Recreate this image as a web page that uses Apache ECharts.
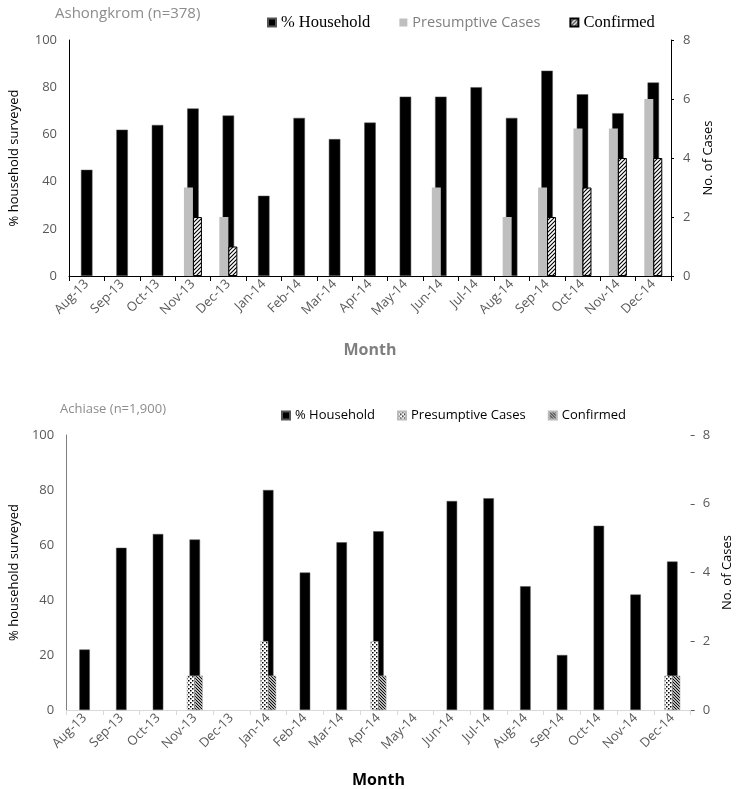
<!DOCTYPE html>
<html>
<head>
<meta charset="utf-8">
<script src="https://cdn.jsdelivr.net/npm/echarts@6/dist/echarts.min.js"></script>
<style>
html,body{margin:0;padding:0;background:#fff;}
#chart{width:742px;height:789px;}
</style>
</head>
<body>
<div id="chart"></div>
<script>
// ---- data ----
const months = ['Aug-13','Sep-13','Oct-13','Nov-13','Dec-13','Jan-14','Feb-14','Mar-14','Apr-14','May-14','Jun-14','Jul-14','Aug-14','Sep-14','Oct-14','Nov-14','Dec-14'];
const ashHousehold   = [45,62,64,71,68,34,67,58,65,76,76,80,67,87,77,69,82];
const ashPresumptive = [0,0,0,3,2,0,0,0,0,0,3,0,2,3,5,5,6];
const ashConfirmed   = [0,0,0,2,1,0,0,0,0,0,0,0,0,2,3,4,4];
const achHousehold   = [22,59,64,62,0,80,50,61,65,0,76,77,45,20,67,42,54];
const achPresumptive = [0,0,0,1,0,2,0,0,2,0,0,0,0,0,0,0,1];
const achConfirmed   = [0,0,0,1,0,1,0,0,1,0,0,0,0,0,0,0,1];
const pctTicks = [0,20,40,60,80,100];
const caseTicks = [0,2,4,6,8];
const titles = ['Ashongkrom (n=378)', 'Achiase (n=1,900)'];
const seriesLabels = ['% Household', 'Presumptive Cases', 'Confirmed'];

// ---- patterns ----
function hatch(dir, size, lw) {
  const c = document.createElement('canvas');
  c.width = c.height = size;
  const g = c.getContext('2d');
  g.fillStyle = '#fff'; g.fillRect(0, 0, size, size);
  g.strokeStyle = '#000'; g.lineWidth = lw; g.beginPath();
  if (dir > 0) {
    g.moveTo(0, size); g.lineTo(size, 0);
    g.moveTo(-1, 1); g.lineTo(1, -1);
    g.moveTo(size - 1, size + 1); g.lineTo(size + 1, size - 1);
  } else {
    g.moveTo(0, 0); g.lineTo(size, size);
    g.moveTo(size - 1, -1); g.lineTo(size + 1, 1);
    g.moveTo(-1, size - 1); g.lineTo(1, size + 1);
  }
  g.stroke();
  return c;
}
function dots() {
  const c = document.createElement('canvas');
  c.width = c.height = 4;
  const g = c.getContext('2d');
  g.fillStyle = '#fff'; g.fillRect(0, 0, 4, 4);
  g.fillStyle = '#000';
  g.fillRect(0, 0, 1.5, 1.5);
  g.fillRect(2, 2, 1.5, 1.5);
  return c;
}
const patTopConf = { image: hatch(1, 4, 1.1), repeat: 'repeat' };
const patBotPres = { image: dots(), repeat: 'repeat' };
const patBotConf = { image: hatch(-1, 3, 1.1), repeat: 'repeat' };

const nz = arr => arr.map(v => (v === 0 ? '-' : v));
const FONT = 'Open Sans';

const chart = echarts.init(document.getElementById('chart'), null, { renderer: 'canvas' });

const option = {
  animation: false,
  backgroundColor: '#fff',
  title: [
    { text: titles[0], left: 50, top: 1, textStyle: { fontFamily: FONT, fontSize: 15, fontWeight: 'normal', color: '#8c8c8c' } },
    { text: titles[1], left: 55, top: 398, textStyle: { fontFamily: FONT, fontSize: 13, fontWeight: 'normal', color: '#8c8c8c' } }
  ],
  legend: [
    {
      left: 262, top: 9, itemWidth: 8, itemHeight: 8, itemGap: 29,
      icon: 'rect',
      data: [
        { name: 'a_house', textStyle: { fontFamily: 'Liberation Serif', fontSize: 16.5, color: '#000' } },
        { name: 'a_pres', textStyle: { fontFamily: FONT, fontSize: 14.5, color: '#7f7f7f' } },
        { name: 'a_conf', textStyle: { fontFamily: 'Liberation Serif', fontSize: 16.5, color: '#000' } }
      ],
      formatter: n => ({ a_house: seriesLabels[0], a_pres: seriesLabels[1], a_conf: seriesLabels[2] })[n],
      selectedMode: false
    },
    {
      left: 276, top: 404, itemWidth: 8, itemHeight: 8, itemGap: 22,
      icon: 'rect',
      textStyle: { fontFamily: FONT, fontSize: 13, color: '#000' },
      data: ['b_house', 'b_pres', 'b_conf'],
      formatter: n => ({ b_house: seriesLabels[0], b_pres: seriesLabels[1], b_conf: seriesLabels[2] })[n],
      selectedMode: false
    }
  ],
  grid: [
    { left: 65, top: 40, width: 606, height: 236, containLabel: false },
    { left: 59, top: 435, width: 640, height: 277, containLabel: false }
  ],
  xAxis: [
    {
      gridIndex: 0, type: 'category', data: months,
      axisLine: { lineStyle: { color: '#000', width: 1 } },
      axisTick: { show: true, length: 5, lineStyle: { color: '#000' } },
      axisLabel: { rotate: 45, color: '#595959', fontFamily: FONT, fontSize: 13, margin: 6 },
      name: 'Month', nameLocation: 'middle', nameGap: 66,
      nameTextStyle: { fontFamily: FONT, fontSize: 16, fontWeight: 'bold', color: '#7f7f7f' }
    },
    { gridIndex: 0, type: 'category', data: months, show: false },
    {
      gridIndex: 1, type: 'category', data: months,
      axisLine: { lineStyle: { color: '#d9d9d9', width: 1 } },
      axisTick: { show: true, length: 5, lineStyle: { color: '#d9d9d9' } },
      axisLabel: { rotate: 45, color: '#595959', fontFamily: FONT, fontSize: 13, margin: 6 },
      name: 'Month', nameLocation: 'middle', nameGap: 62,
      nameTextStyle: { fontFamily: FONT, fontSize: 16, fontWeight: 'bold', color: '#000' }
    },
    { gridIndex: 1, type: 'category', data: months, show: false }
  ],
  yAxis: [
    {
      gridIndex: 0, type: 'value', min: 0, max: 100, interval: 20, position: 'left',
      axisLine: { show: true, lineStyle: { color: '#000' } },
      axisTick: { show: false }, splitLine: { show: false },
      axisLabel: { color: '#595959', fontFamily: FONT, fontSize: 13, margin: 12,
        formatter: v => (pctTicks.includes(v) ? String(v) : '') },
      name: '% household surveyed', nameLocation: 'middle', nameRotate: 90, nameGap: 48,
      nameTextStyle: { fontFamily: FONT, fontSize: 13, color: '#000' }
    },
    {
      gridIndex: 0, type: 'value', min: 0, max: 8, interval: 2, position: 'right',
      axisLine: { show: true, lineStyle: { color: '#000' } },
      axisTick: { show: true, length: 3, lineStyle: { color: '#000' } }, splitLine: { show: false },
      axisLabel: { color: '#595959', fontFamily: FONT, fontSize: 13, margin: 12,
        formatter: v => (caseTicks.includes(v) ? String(v) : '') },
      name: 'No. of Cases', nameLocation: 'middle', nameRotate: 90, nameGap: 31,
      nameTextStyle: { fontFamily: FONT, fontSize: 13, color: '#000' }
    },
    {
      gridIndex: 1, type: 'value', min: 0, max: 100, interval: 20, position: 'left',
      axisLine: { show: true, lineStyle: { color: '#7f7f7f' } },
      axisTick: { show: false }, splitLine: { show: false },
      axisLabel: { color: '#595959', fontFamily: FONT, fontSize: 13, margin: 12,
        formatter: v => (pctTicks.includes(v) ? String(v) : '') },
      name: '% household surveyed', nameLocation: 'middle', nameRotate: 90, nameGap: 42,
      nameTextStyle: { fontFamily: FONT, fontSize: 13, color: '#000' }
    },
    {
      gridIndex: 1, type: 'value', min: 0, max: 8, interval: 2, position: 'right',
      axisLine: { show: false },
      axisTick: { show: true, length: 4, lineStyle: { color: '#595959' } }, splitLine: { show: false },
      axisLabel: { color: '#595959', fontFamily: FONT, fontSize: 13, margin: 12,
        formatter: v => (caseTicks.includes(v) ? String(v) : '') },
      name: 'No. of Cases', nameLocation: 'middle', nameRotate: 90, nameGap: 28,
      nameTextStyle: { fontFamily: FONT, fontSize: 13, color: '#000' }
    }
  ],
  series: [
    { name: 'a_house', type: 'bar', xAxisIndex: 0, yAxisIndex: 0, data: nz(ashHousehold), barWidth: 11.5,
      itemStyle: { color: '#000', borderColor: '#555', borderWidth: 0.5 } },
    { name: 'a_pres', type: 'bar', xAxisIndex: 1, yAxisIndex: 1, data: nz(ashPresumptive), barWidth: 9, barGap: '0%',
      itemStyle: { color: '#bfbfbf' } },
    { name: 'a_conf', type: 'bar', xAxisIndex: 1, yAxisIndex: 1, data: nz(ashConfirmed), barWidth: 9, barGap: '0%',
      itemStyle: { color: patTopConf, borderColor: '#000', borderWidth: 1 } },
    { name: 'b_house', type: 'bar', xAxisIndex: 2, yAxisIndex: 2, data: nz(achHousehold), barWidth: 10.5,
      itemStyle: { color: '#000', borderColor: '#555', borderWidth: 0.5 } },
    { name: 'b_pres', type: 'bar', xAxisIndex: 3, yAxisIndex: 3, data: nz(achPresumptive), barWidth: 8, barGap: '0%',
      itemStyle: { color: patBotPres, borderColor: '#bbb', borderWidth: 0.5 } },
    { name: 'b_conf', type: 'bar', xAxisIndex: 3, yAxisIndex: 3, data: nz(achConfirmed), barWidth: 8, barGap: '0%',
      itemStyle: { color: patBotConf, borderColor: '#bbb', borderWidth: 0.5 } }
  ]
};
chart.setOption(option);
</script>
</body>
</html>
